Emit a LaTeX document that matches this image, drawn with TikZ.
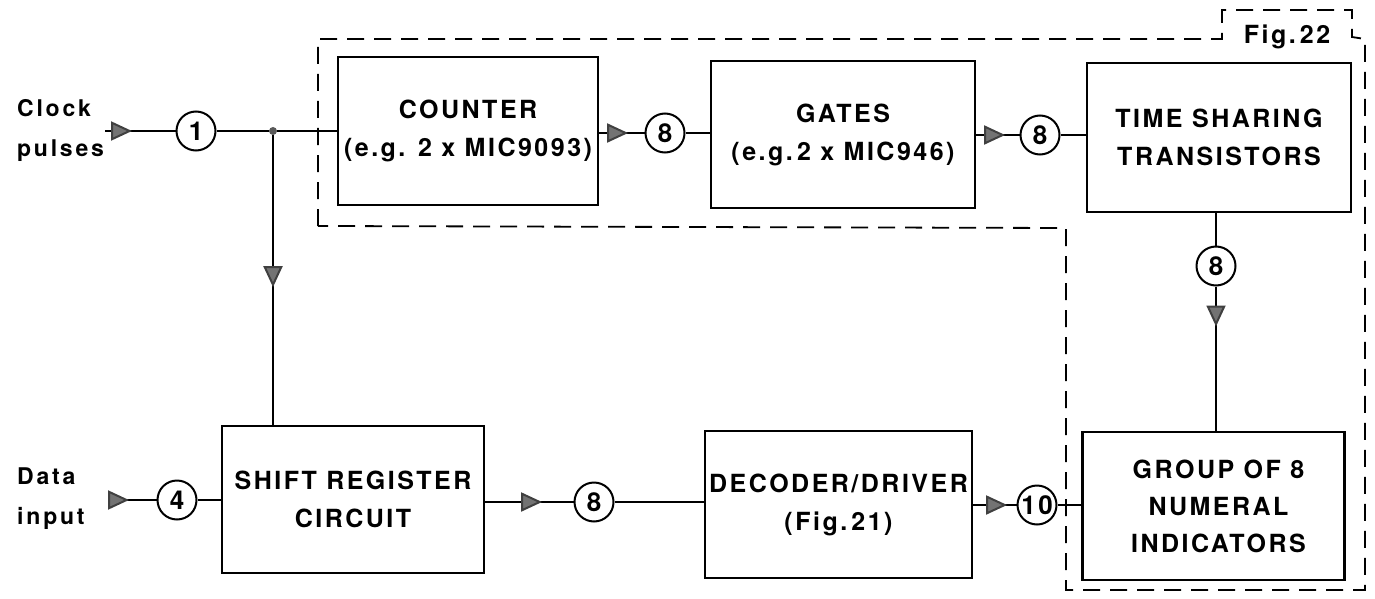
\documentclass[tikz,border=0pt]{standalone}
\usepackage{fontspec}
\setmainfont{TeX Gyre Heros}[LetterSpace=10]
\newfontfamily\lblfont{TeX Gyre Heros}[LetterSpace=12]
\usetikzlibrary{arrows.meta,decorations.markings}
\tikzset{
  blk/.style={draw, line width=2.2pt, align=center, inner sep=0pt,
    font=\fontsize{25}{38}\selectfont\bfseries},
  num/.style={draw, circle, line width=2pt, minimum size=39pt, inner sep=0pt,
    font=\fontsize{26}{26}\selectfont\bfseries},
  wire/.style={line width=2pt},
  lbl/.style={align=left, anchor=west, inner sep=0pt,
    font=\lblfont\fontsize{23}{40}\selectfont\bfseries},
  fence/.style={line width=1.8pt, dash pattern=on 17pt off 10pt},
  tipat/.style={postaction={decorate}, decoration={markings,
    mark=at position #1 with {\arrow{Triangle[length=21pt,width=19pt,color=black!75,fill=black!55]}}}}
}
\begin{document}
\begin{tikzpicture}[x=1pt,y=-1pt]
\useasboundingbox (0,0) rectangle (1375,599);

% dashed fence
\draw[fence] (318,226) -- (318,39) -- (1222,39) -- (1222,10) -- (1352,10)
  -- (1352,37) -- (1365,39) -- (1365,590) -- (1066,590) -- (1066,228) -- cycle;
\node[font=\fontsize{25}{25}\selectfont\bfseries] (fig) at (1287,37) {Fig.\,22};

% blocks
\node[blk, minimum width=260pt, minimum height=148pt] (counter) at (468,131)
  {COUNTER\\(e.g. 2 x MIC9093)};
\node[blk, minimum width=264pt, minimum height=147pt] (gates) at (843,134.5)
  {GATES\\(e.g.\,2 x MIC946)};
\node[blk, minimum width=264pt, minimum height=149pt] (ts) at (1219,137.5)
  {TIME SHARING\\TRANSISTORS};
\node[blk, minimum width=262pt, minimum height=147pt] (shift) at (353,499.5)
  {SHIFT REGISTER\\CIRCUIT};
\node[blk, minimum width=267pt, minimum height=147pt] (dec) at (838.5,504.5)
  {DECODER/DRIVER\\(Fig.\,21)};
\node[blk, minimum width=262pt, minimum height=148pt, font=\fontsize{25}{37}\selectfont\bfseries] (grp) at (1213.5,506)
  {\hspace*{10pt}GROUP OF 8\\\hspace*{10pt}NUMERAL\\\hspace*{10pt}INDICATORS};

% labels
\node[lbl] (clklbl) at (17,130) {Clock\\pulses};
\node[lbl] (datalbl) at (17,499) {Data\\input};

% numbered circles
\node[num] (c1) at (196,131) {1};
\node[num] (c8a) at (665,133) {8};
\node[num] (c8b) at (1040,135) {8};
\node[num] (c8c) at (1216,266) {8};
\node[num] (c4) at (177,500) {4};
\node[num] (c8d) at (594,502) {8};
\node[num] (c10) at (1037,505) {10};

\node[circle, fill=black!65, minimum size=8pt, inner sep=0pt] (dot) at (273,131) {};
\coordinate (clkin) at (105,131);
\coordinate (datin) at (108,500);

% connectors
\draw[wire, tipat=27pt] (clkin) -- (c1);
\draw[wire] (c1) -- (dot) -- (counter.west |- dot);
\draw[wire, tipat=152pt] (dot) -- (shift.north -| dot);
\draw[wire, tipat=29pt] (counter.east |- c8a) -- (c8a);
\draw[wire] (c8a) -- (gates.west |- c8a);
\draw[wire, tipat=29pt] (gates.east |- c8b) -- (c8b);
\draw[wire] (c8b) -- (ts.west |- c8b);
\draw[wire] (ts.south -| c8c) -- (c8c);
\draw[wire, tipat=40pt] (c8c) -- (grp.north -| c8c);
\draw[wire, tipat=21pt] (datin) -- (c4);
\draw[wire] (c4) -- (shift.west |- c4);
\draw[wire, tipat=57pt] (shift.east |- c8d) -- (c8d);
\draw[wire] (c8d) -- (dec.west |- c8d);
\draw[wire, tipat=34pt] (dec.east |- c10) -- (c10);
\draw[wire] (c10) -- (grp.west |- c10);
\end{tikzpicture}
\end{document}
